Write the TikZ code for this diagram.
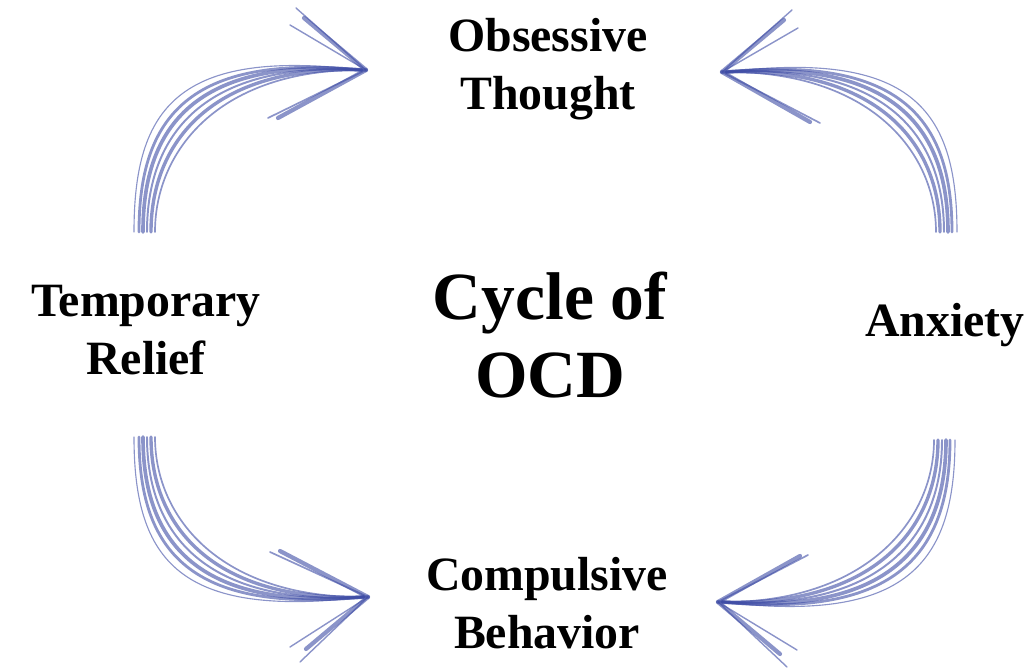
\documentclass[tikz,border=0pt]{standalone}
\usepackage{fontspec}
\setmainfont{Liberation Serif}
\usetikzlibrary{calc}
\usetikzlibrary{positioning}
\definecolor{penblue}{RGB}{62,76,165}

\begin{document}
\begin{tikzpicture}
  [
    x = 0.025cm, y = 0.025cm,
    stage/.style = {font = \bfseries\fontsize{34}{41}\selectfont,
                    align = center, inner sep = 0pt},
    centre/.style = {stage, font = \bfseries\fontsize{48}{55}\selectfont},
    sketch/.style = {penblue, line width = 1.6pt, opacity = 0.6, line cap = round},
  ]
  \useasboundingbox (0,0) rectangle (1028,670);

  \node[centre] (cycle) at (550,335) {Cycle of\\OCD};
  \node[stage] (obs) at (548,601) {Obsessive\\Thought};
  \node[stage] (relief) at (146,340) {Temporary\\Relief};
  \node[stage] (anx) at (945,345) {Anxiety};
  \node[stage] (comp) at (547,67) {Compulsive\\Behavior};

  % arrow ends
  \coordinate (tl-a) at ($(relief)+(0,98)$);
  \coordinate (tl-b) at ($(obs)+(-182,-1)$);
  \coordinate (tr-a) at ($(anx)+(0,93)$);
  \coordinate (tr-b) at ($(obs)+(174,-3)$);
  \coordinate (bl-a) at ($(relief)+(0,-107)$);
  \coordinate (bl-b) at ($(comp)+(-179,6)$);
  \coordinate (br-a) at ($(anx)+(-2,-115)$);
  \coordinate (br-b) at ($(comp)+(171,1)$);

  % relief -> obsessive thought
  \foreach \d/\w in {-12/0.8,-7/2,-3/2.6,1/1.4,5/2.4,9/1.2}
    \draw[sketch, line width = \w pt] ($(tl-a)+(\d,0)$)
      .. controls +(0,100-2*\d) and +(-160+2*\d,10-\d) .. ($(tl-b)+(-4,0)$);
  \foreach \bx/\by/\w in {-70/62/1, -62/52/3, -76/45/1, -98/-48/1.2, -88/-48/3}
    \draw[sketch, line width = \w pt] (tl-b) -- +(\bx,\by);

  % anxiety -> obsessive thought
  \foreach \d/\w in {-9/1.2,-5/2.4,-1/1.4,3/2.6,7/2,12/0.8}
    \draw[sketch, line width = \w pt] ($(tr-a)+(\d,0)$)
      .. controls +(0,100+2*\d) and +(160+2*\d,10+\d) .. ($(tr-b)+(4,0)$);
  \foreach \bx/\by/\w in {70/62/1, 62/52/3, 76/44/1, 98/-51/1.2, 88/-50/3}
    \draw[sketch, line width = \w pt] (tr-b) -- +(\bx,\by);

  % relief -> compulsive behavior
  \foreach \d/\w in {-12/0.8,-7/2,-3/2.6,1/1.4,5/2.4,9/1.2}
    \draw[sketch, line width = \w pt] ($(bl-a)+(\d,0)$)
      .. controls +(0,-100+2*\d) and +(-160+2*\d,-10+\d) .. ($(bl-b)+(-4,0)$);
  \foreach \bx/\by/\w in {-98/45/1.2, -88/46/3, -78/-50/1, -68/-65/1, -62/-52/3}
    \draw[sketch, line width = \w pt] (bl-b) -- +(\bx,\by);

  % anxiety -> compulsive behavior
  \foreach \d/\w in {-9/1.2,-5/2.4,-1/1.4,3/2.6,7/2,12/0.8}
    \draw[sketch, line width = \w pt] ($(br-a)+(\d,0)$)
      .. controls +(0,-100-2*\d) and +(160+2*\d,-10-\d) .. ($(br-b)+(4,0)$);
  \foreach \bx/\by/\w in {90/47/1.2, 82/46/3, 79/-48/1, 69/-65/1, 62/-52/3}
    \draw[sketch, line width = \w pt] (br-b) -- +(\bx,\by);
\end{tikzpicture}
\end{document}
